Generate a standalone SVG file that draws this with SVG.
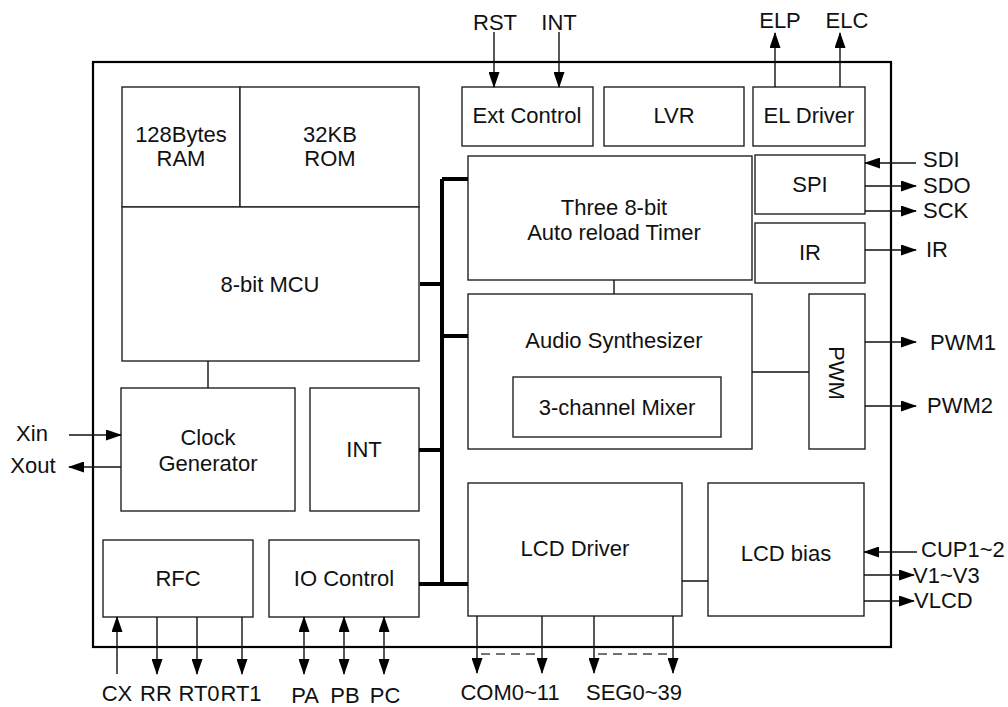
<svg xmlns="http://www.w3.org/2000/svg" width="1008" height="707" viewBox="0 0 1008 707">
<style>
.box{fill:#fff;stroke:#222;stroke-width:1.4}
.frame{fill:none;stroke:#000;stroke-width:2.2}
.t{font-family:"Liberation Sans",Arial,sans-serif;font-size:22px;fill:#111;text-anchor:middle}
.ts{font-family:"Liberation Sans",Arial,sans-serif;font-size:22px;fill:#111;text-anchor:start}
.w{fill:none;stroke:#111;stroke-width:1.4}
.bus{fill:none;stroke:#000;stroke-width:4}
.dash{fill:none;stroke:#444;stroke-width:1.6;stroke-dasharray:9 6}
</style>
<defs>
<marker id="ah" markerUnits="userSpaceOnUse" markerWidth="16" markerHeight="11" refX="15" refY="5.5" orient="auto-start-reverse" viewBox="0 0 16 11">
<path d="M0,0 L16,5.5 L0,11 z" fill="#000"/>
</marker>
</defs>
<rect width="1008" height="707" fill="#fff"/>
<rect class="frame" x="93" y="62" width="798" height="585"/>

<g id="ram"><rect class="box" x="122" y="87" width="118" height="120"/><text class="t" x="181" y="142">128Bytes</text><text class="t" x="181" y="166">RAM</text></g>
<g id="rom"><rect class="box" x="240" y="87" width="179" height="120"/><text class="t" x="330" y="142">32KB</text><text class="t" x="330" y="166">ROM</text></g>
<g id="mcu"><rect class="box" x="122" y="207" width="297" height="154"/><text class="t" x="270" y="292">8-bit MCU</text></g>
<g id="clock"><rect class="box" x="121" y="388" width="174" height="123"/><text class="t" x="208" y="445">Clock</text><text class="t" x="208" y="471">Generator</text></g>
<g id="int"><rect class="box" x="310" y="388" width="109" height="123"/><text class="t" x="364" y="457">INT</text></g>
<g id="rfc"><rect class="box" x="103" y="540" width="150" height="77"/><text class="t" x="178" y="586">RFC</text></g>
<g id="io"><rect class="box" x="269" y="540" width="150" height="77"/><text class="t" x="344" y="586">IO Control</text></g>
<g id="ext"><rect class="box" x="462" y="87" width="131" height="59"/><text class="t" x="527" y="123">Ext Control</text></g>
<g id="lvr"><rect class="box" x="604" y="87" width="140" height="59"/><text class="t" x="674" y="123">LVR</text></g>
<g id="el"><rect class="box" x="753" y="87" width="112" height="59"/><text class="t" x="809" y="123">EL Driver</text></g>
<g id="timer"><rect class="box" x="468" y="156" width="284" height="124"/><text class="t" x="614" y="215">Three 8-bit</text><text class="t" x="614" y="240">Auto reload Timer</text></g>
<g id="spi"><rect class="box" x="755" y="155" width="110" height="59"/><text class="t" x="810" y="192">SPI</text></g>
<g id="ir"><rect class="box" x="755" y="223" width="110" height="60"/><text class="t" x="810" y="260">IR</text></g>
<g id="audio"><rect class="box" x="468" y="294" width="284" height="155"/><text class="t" x="614" y="348">Audio Synthesizer</text></g>
<g id="mixer"><rect class="box" x="513" y="377" width="208" height="60"/><text class="t" x="617" y="415">3-channel Mixer</text></g>
<g id="pwm"><rect class="box" x="809" y="294" width="56" height="155"/><text class="t" transform="translate(837,373) rotate(90)" x="0" y="8">PWM</text></g>
<g id="lcddrv"><rect class="box" x="468" y="483" width="214" height="133"/><text class="t" x="575" y="556">LCD Driver</text></g>
<g id="lcdbias"><rect class="box" x="708" y="483" width="156" height="133"/><text class="t" x="786" y="561">LCD bias</text></g>

<g id="connectors">
<path class="bus" d="M442,179 V584 M442,179 H468 M420,284 H442 M442,336 H468 M419,450 H442 M419,584 H468"/>
<path class="w" d="M208,361 V388 M614,280 V294 M752,372 H809 M682,581 H708"/>
<path class="w" marker-end="url(#ah)" d="M494,32 V87"/>
<path class="w" marker-end="url(#ah)" d="M559,32 V87"/>
<path class="w" marker-end="url(#ah)" d="M775,87 V33"/>
<path class="w" marker-end="url(#ah)" d="M840,87 V33"/>
<path class="w" marker-end="url(#ah)" d="M916,163 H865"/>
<path class="w" marker-end="url(#ah)" d="M865,186 H916"/>
<path class="w" marker-end="url(#ah)" d="M865,211 H916"/>
<path class="w" marker-end="url(#ah)" d="M865,250 H916"/>
<path class="w" marker-end="url(#ah)" d="M865,342 H916"/>
<path class="w" marker-end="url(#ah)" d="M865,406 H916"/>
<path class="w" marker-end="url(#ah)" d="M917,552 H864"/>
<path class="w" marker-end="url(#ah)" d="M864,575 H914"/>
<path class="w" marker-end="url(#ah)" d="M864,601 H914"/>
<path class="w" marker-end="url(#ah)" d="M69,435 H121"/>
<path class="w" marker-end="url(#ah)" d="M121,467 H69"/>
<path class="w" marker-end="url(#ah)" d="M117,674 V617"/>
<path class="w" marker-end="url(#ah)" d="M157,617 V674"/>
<path class="w" marker-end="url(#ah)" d="M197,617 V674"/>
<path class="w" marker-end="url(#ah)" d="M242,617 V674"/>
<path class="w" marker-start="url(#ah)" marker-end="url(#ah)" d="M304,617 V674"/>
<path class="w" marker-start="url(#ah)" marker-end="url(#ah)" d="M344,617 V674"/>
<path class="w" marker-start="url(#ah)" marker-end="url(#ah)" d="M384,617 V674"/>
<path class="w" marker-end="url(#ah)" d="M477,616 V673"/>
<path class="w" marker-end="url(#ah)" d="M542,616 V673"/>
<path class="w" marker-end="url(#ah)" d="M594,616 V673"/>
<path class="w" marker-end="url(#ah)" d="M673,616 V673"/>
<path class="dash" d="M481,654 H540 M598,654 H671"/>
</g>

<g id="labels">
<text class="t" x="495" y="30">RST</text>
<text class="t" x="559" y="30">INT</text>
<text class="t" x="780" y="28">ELP</text>
<text class="t" x="847" y="28">ELC</text>
<text class="ts" x="923" y="167">SDI</text>
<text class="ts" x="923" y="193">SDO</text>
<text class="ts" x="923" y="218">SCK</text>
<text class="ts" x="926" y="257">IR</text>
<text class="ts" x="930" y="350">PWM1</text>
<text class="ts" x="927" y="413">PWM2</text>
<text class="ts" x="921" y="557">CUP1~2</text>
<text class="ts" x="913" y="583">V1~V3</text>
<text class="ts" x="914" y="608">VLCD</text>
<text class="t" x="32" y="441">Xin</text>
<text class="t" x="33" y="473">Xout</text>
<text class="t" x="117" y="701">CX</text>
<text class="t" x="156" y="701">RR</text>
<text class="t" x="199" y="701">RT0</text>
<text class="t" x="241" y="701">RT1</text>
<text class="t" x="305" y="703">PA</text>
<text class="t" x="345" y="703">PB</text>
<text class="t" x="385" y="703">PC</text>
<text class="t" x="510" y="700">COM0~11</text>
<text class="t" x="634" y="700">SEG0~39</text>
</g>
</svg>
